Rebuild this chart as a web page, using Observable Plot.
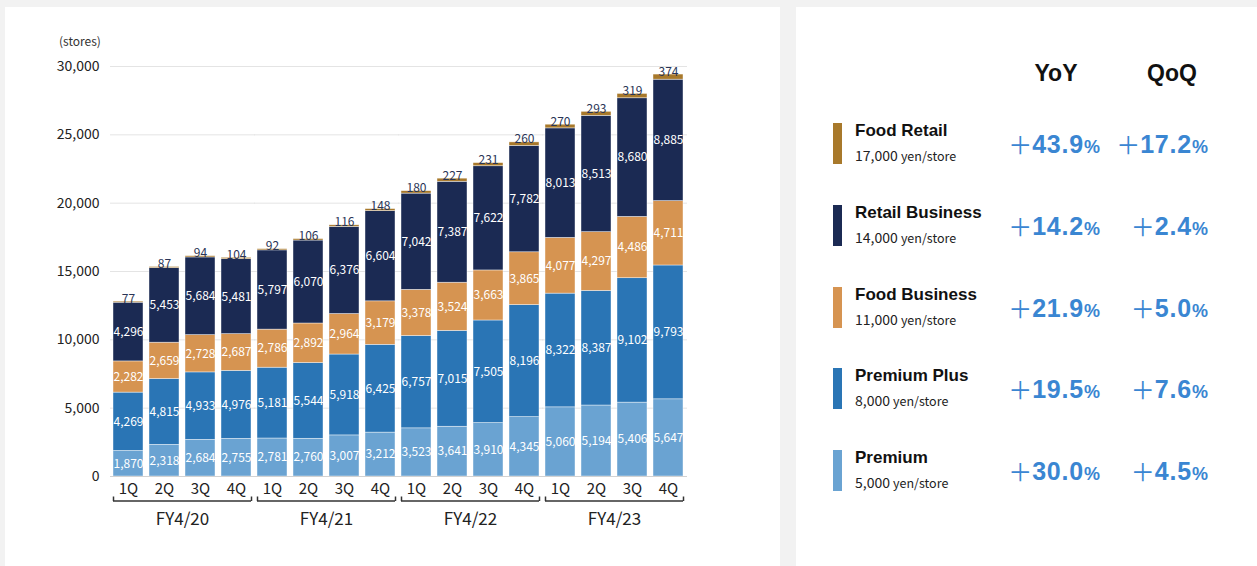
<!DOCTYPE html>
<html>
<head>
<meta charset="utf-8">
<script src="https://cdn.jsdelivr.net/npm/d3@7"></script>
<script src="https://cdn.jsdelivr.net/npm/@observablehq/plot@0.6"></script>
<style>
  html, body { margin: 0; padding: 0; }
  body { width: 1257px; height: 566px; overflow: hidden; background: #f2f2f2; position: relative;
         font-family: "Noto Sans CJK JP", "Noto Sans", sans-serif; color: #222; }
  .panel { position: absolute; background: #fff; }
  #chart { position: absolute; left: 0; top: 0; }
  #unit { position: absolute; left: 59px; top: 32px; font-size: 12px; color: #333; }
  .hdr { position: absolute; top: 60px; width: 80px; text-align: center;
         font-family: "Liberation Sans", Arial, sans-serif; font-weight: bold; font-size: 23px; color: #111; }
  .swatch { position: absolute; left: 833px; width: 9px; height: 41px; }
  .name { position: absolute; left: 855px; font-family: "Liberation Sans", Arial, sans-serif;
          font-weight: bold; font-size: 17px; color: #111; white-space: nowrap; }
  .price { position: absolute; left: 855px; font-size: 14px; color: #222; white-space: nowrap; }
  .price small { font-size: 12.5px; }
  .pct { position: absolute; text-align: right; width: 140px; height: 34px; line-height: 34px; white-space: nowrap; color: #3a86d2;
         font-family: "Liberation Sans", Arial, sans-serif; font-weight: bold; font-size: 25px; letter-spacing: 0.8px; }
  .pct .plus { font-family: "Noto Sans CJK JP", sans-serif; font-weight: 400; font-size: 24px; letter-spacing: 0;
               position: relative; top: 1px; }
  .pct .unit { font-size: 18px; font-weight: bold; letter-spacing: 0; }
</style>
</head>
<body>
<div class="panel" style="left:5px; top:7px; width:775px; height:570px;"></div>
<div class="panel" style="left:796px; top:7px; width:470px; height:570px;"></div>
<div id="unit">(stores)</div>
<div id="chart"></div>
<div id="legend"></div>
<script>
// Fiscal years and quarters on the x axis
const fiscalYears = ["FY4/20", "FY4/21", "FY4/22", "FY4/23"];
const quarters = ["1Q", "2Q", "3Q", "4Q"];

// Plans, stacked from bottom to top
const planNames = ["Premium", "Premium Plus", "Food Business", "Retail Business", "Food Retail"];
const planColors = ["#6aa3d2", "#2a75b5", "#d69451", "#1b2a53", "#a8792b"];

// Store counts per quarter, FY4/20 1Q .. FY4/23 4Q
const premium        = [1870, 2318, 2684, 2755, 2781, 2760, 3007, 3212, 3523, 3641, 3910, 4345, 5060, 5194, 5406, 5647];
const premiumPlus    = [4269, 4815, 4933, 4976, 5181, 5544, 5918, 6425, 6757, 7015, 7505, 8196, 8322, 8387, 9102, 9793];
const foodBusiness   = [2282, 2659, 2728, 2687, 2786, 2892, 2964, 3179, 3378, 3524, 3663, 3865, 4077, 4297, 4486, 4711];
const retailBusiness = [4296, 5453, 5684, 5481, 5797, 6070, 6376, 6604, 7042, 7387, 7622, 7782, 8013, 8513, 8680, 8885];
const foodRetail     = [77, 87, 94, 104, 92, 106, 116, 148, 180, 227, 231, 260, 270, 293, 319, 374];

// Y axis ticks
const yTicks = [0, 5000, 10000, 15000, 20000, 25000, 30000];

// Legend table: monthly price and growth rates
const legendOrder = ["Food Retail", "Retail Business", "Food Business", "Premium Plus", "Premium"];
const legendPrices = ["17,000", "14,000", "11,000", "8,000", "5,000"];
const yoyGrowth = ["43.9", "14.2", "21.9", "19.5", "30.0"];
const qoqGrowth = ["17.2", "2.4", "5.0", "7.6", "4.5"];

const seriesValues = [premium, premiumPlus, foodBusiness, retailBusiness, foodRetail];
const rows = [];
seriesValues.forEach((vals, s) => {
  vals.forEach((v, i) => rows.push({fy: fiscalYears[Math.floor(i / 4)], q: quarters[i % 4], plan: planNames[s], value: v}));
});
const tops = foodRetail.map((v, i) => ({
  fy: fiscalYears[Math.floor(i / 4)], q: quarters[i % 4], value: v,
  total: seriesValues.reduce((sum, vals) => sum + vals[i], 0)
}));
const fmt = d3.format(",");

const chart = Plot.plot({
  width: 780,
  height: 545,
  marginLeft: 113,
  marginRight: 97,
  marginTop: 66,
  marginBottom: 69,
  style: {fontFamily: "'Noto Sans CJK JP', 'Noto Sans', sans-serif", fontSize: "14px", color: "#222", background: "transparent"},
  fx: {domain: fiscalYears, paddingInner: 6 / 144, paddingOuter: 0, axis: null},
  x: {domain: quarters, paddingInner: 1 / 6, paddingOuter: 0, axis: null},
  y: {domain: [0, 30000], axis: null},
  color: {domain: planNames, range: planColors},
  marks: [
    // grid lines run on through the gaps between fiscal-year groups
    Plot.gridY(yTicks, {stroke: "#e4e4e4", strokeOpacity: 1, insetLeft: -3, insetRight: -4}),
    Plot.axisY(yTicks, {tickSize: 0, tickPadding: 14, tickFormat: fmt, fontSize: 14, fill: "#222"}),
    Plot.barY(rows, {fx: "fy", x: "q", y: "value", fill: "plan", stroke: "#fff", strokeWidth: 0.6, strokeOpacity: 0.7}),
    Plot.ruleY([0], {stroke: "#d2d2d2", strokeWidth: 1.2, insetLeft: -3, insetRight: -4}),
    Plot.text(rows.filter(d => d.plan !== "Food Retail"), Plot.stackY({
      fx: "fy", x: "q", y: "value", z: "plan",
      text: d => fmt(d.value), fill: "#fff", fontSize: 12, fontWeight: 400
    })),
    Plot.text(tops, {fx: "fy", x: "q", y: "total", text: d => fmt(d.value), lineAnchor: "bottom", dy: 1,
      fill: "#2a3556", fontSize: 12}),
    Plot.axisX({tickSize: 0, tickPadding: 7, fontSize: 15, fill: "#222", label: null}),
    // group brackets under each fiscal year
    Plot.ruleY([-1800], {stroke: "#333", strokeWidth: 1.5}),
    Plot.ruleX(["1Q"], {y1: -1830, y2: -1500, dx: -15, stroke: "#333", strokeWidth: 1.5}),
    Plot.ruleX(["4Q"], {y1: -1830, y2: -1500, dx: 15, stroke: "#333", strokeWidth: 1.5}),
    Plot.axisFx({anchor: "bottom", tickSize: 0, tickPadding: 36, fontSize: 17, fill: "#222", label: null})
  ]
});
document.getElementById("chart").append(chart);

// Legend with growth rates
const legend = document.getElementById("legend");
legend.innerHTML =
  `<div class="hdr" style="left:1016px">YoY</div><div class="hdr" style="left:1132px">QoQ</div>` +
  legendOrder.map((name, i) => {
    const top = 123 + i * 81.8;
    const color = planColors[planNames.indexOf(name)];
    return `<div class="swatch" style="top:${top}px; background:${color}"></div>
      <div class="name" style="top:${top - 2}px">${name}</div>
      <div class="price" style="top:${top + 22}px">${legendPrices[i]} <small>yen/store</small></div>
      <div class="pct" style="left:${1100 - 140}px; top:${top + 3}px"><span class="plus">＋</span>${yoyGrowth[i]}<span class="unit">%</span></div>
      <div class="pct" style="left:${1208 - 140}px; top:${top + 3}px"><span class="plus">＋</span>${qoqGrowth[i]}<span class="unit">%</span></div>`;
  }).join("");
</script>
</body>
</html>
